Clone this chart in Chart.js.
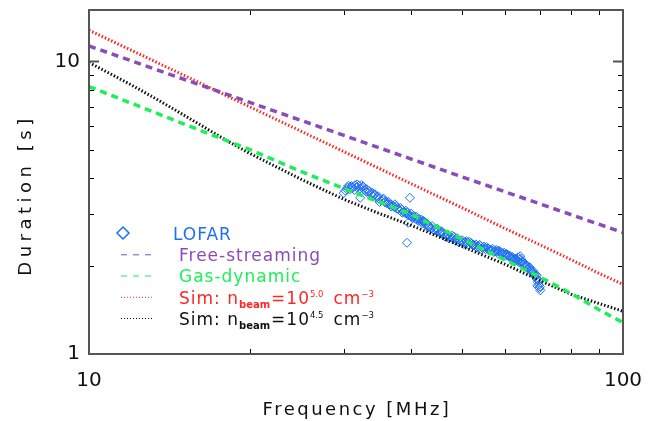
<!DOCTYPE html>
<html>
<head>
<meta charset="utf-8">
<script src="https://cdn.jsdelivr.net/npm/chart.js@4/dist/chart.umd.min.js"></script>
<style>
  html, body { margin: 0; padding: 0; background: #ffffff; }
  #wrap { width: 660px; height: 421px; }
</style>
</head>
<body>
<div id="wrap"><canvas id="c" width="660" height="421"></canvas></div>
<script>
// ---- data ----
const lofarFreq = [30.2,30.5,30.8,31.0,31.2,31.5,31.7,32.0,32.2,32.5,32.8,33.0,33.3,33.5,33.8,34.0,34.3,34.6,34.9,35.2,35.5,35.8,36.1,36.4,36.7,37.0,37.3,37.6,37.9,38.2,38.5,38.8,39.1,39.4,39.7,40.0,40.3,40.6,40.9,41.2,41.5,41.8,42.1,42.4,42.7,43.0,43.4,43.8,44.2,44.6,45.0,45.4,45.8,46.2,46.6,47.0,47.4,47.8,48.2,48.6,49.0,49.5,50.0,50.5,51.0,51.5,52.0,52.5,53.0,53.5,54.0,54.5,55.0,55.5,56.0,56.5,57.0,57.5,58.0,58.5,59.0,59.5,60.0,60.5,61.0,61.5,62.0,62.5,63.0,63.5,64.0,64.5,65.0,65.5,66.0,66.5,67.0,67.5,68.0,68.5,69.0,69.3,69.6,69.8,70.0,
  30.6,31.4,32.4,33.1,33.9,34.8,35.6,36.5,37.4,38.3,39.2,40.1,41.0,41.9,42.9,43.9,44.9,45.9,46.9,47.9,48.9,49.9,50.9,51.9,52.9,53.9,54.9,55.9,56.9,57.9,58.9,59.9,60.9,61.9,62.9,63.9,64.9,65.9,66.9,67.9,68.9,69.5,
  30.4,31.1,31.8,32.6,33.4,34.2,35.0,35.9,36.8,37.7,38.6,39.5,40.4,41.4,42.3,43.2,44.4,45.6,46.4,47.2,48.4,49.3,50.3,51.3,52.3,53.3,54.3,55.3,56.3,57.3,58.3,59.3,60.3,61.3,62.3,63.3,64.3,65.3,66.3,67.3,68.3,69.1,69.9,
  32.2,39.9,39.4,39.6,30.0,64.2,63.6];
const lofarDur = [3.62,3.71,3.66,3.75,3.70,3.78,3.72,3.76,3.68,3.71,3.63,3.60,3.55,3.58,3.50,3.47,3.52,3.42,3.40,3.35,3.37,3.30,3.28,3.31,3.24,3.22,3.18,3.20,3.13,3.10,3.12,3.06,3.03,3.05,2.98,2.97,2.94,2.96,2.90,2.87,2.89,2.84,2.80,2.82,2.77,2.75,2.72,2.70,2.66,2.68,2.63,2.60,2.62,2.57,2.55,2.56,2.51,2.50,2.52,2.47,2.46,2.44,2.45,2.41,2.40,2.42,2.38,2.36,2.37,2.33,2.34,2.31,2.30,2.32,2.28,2.27,2.29,2.25,2.24,2.26,2.22,2.21,2.19,2.20,2.16,2.14,2.15,2.11,2.12,2.08,2.10,2.06,2.03,2.04,1.99,1.97,1.95,1.91,1.88,1.84,1.80,1.76,1.72,1.68,1.65,
  3.76,3.64,3.78,3.66,3.56,3.46,3.40,3.25,3.25,3.16,3.09,3.02,2.95,2.88,2.80,2.74,2.68,2.58,2.53,2.54,2.49,2.42,2.43,2.40,2.34,2.36,2.33,2.30,2.26,2.27,2.24,2.22,2.18,2.12,2.09,2.06,2.06,2.01,1.98,1.92,1.86,1.79,
  3.66,3.72,3.80,3.74,3.62,3.49,3.31,3.33,3.19,3.14,3.04,3.00,2.92,2.85,2.85,2.71,2.64,2.63,2.52,2.49,2.45,2.41,2.38,2.37,2.36,2.31,2.28,2.28,2.25,2.23,2.21,2.19,2.17,2.17,2.13,2.10,2.12,2.00,1.96,1.93,1.87,1.71,1.70,
  3.42,3.42,2.40,2.81,3.55,2.16,2.14];

const freeFreq = [10, 20, 50, 100];
const freeDur  = [11.3, 7.25, 4.03, 2.6];

const gasFreq = [10, 12, 15, 20, 25, 30, 40, 50, 60, 70, 80, 90, 100];
const gasDur  = [8.21, 7.20, 6.13, 5.00, 4.20, 3.68, 3.01, 2.47, 2.10, 1.83, 1.61, 1.42, 1.28];

const sim50Freq = [10, 15, 20, 30, 40, 50, 60, 70, 80, 90, 100];
const sim50Dur  = [12.8, 9.00, 7.00, 4.92, 3.83, 3.16, 2.69, 2.36, 2.10, 1.89, 1.73];

const sim45Freq = [10, 12, 14, 16, 18, 20, 25, 30, 35, 40, 50, 60, 70, 80, 90, 100];
const sim45Dur  = [9.92, 8.32, 7.09, 6.14, 5.40, 4.85, 3.95, 3.38, 3.02, 2.76, 2.33, 2.03, 1.78, 1.60, 1.49, 1.40];

const xTickLabels = [10, 100];
const yTickLabels = [1, 10];
const xMinorTicks = [20, 30, 40, 50, 60, 70, 80, 90];
const yMinorTicks = [2, 3, 4, 5, 6, 7, 8, 9];

const seriesNames = ['LOFAR', 'Free-streaming', 'Gas-dynamic'];

// ---- colours ----
const C_BLUE = '#1f6ff2';
const C_PURPLE = 'rgb(138,76,184)';
const C_GREEN = '#1eee5a';
const C_RED = '#ff2626';
const C_BLACK = '#111111';
const FONT = '"DejaVu Sans", "Liberation Sans", sans-serif';

const pts = (xs, ys) => xs.map((x, i) => ({x: x, y: ys[i]}));

// inward ticks + frame
const framePlugin = {
  id: 'frame',
  beforeDraw(chart) { chart.ctx.letterSpacing = '0px'; },
  afterDatasetsDraw(chart) {
    const {ctx, chartArea: a, scales: {x, y}} = chart;
    ctx.save();
    ctx.letterSpacing = '0px';
    ctx.strokeStyle = '#000';
    ctx.lineWidth = 1;
    ctx.beginPath();
    xMinorTicks.forEach(v => {
      const px = Math.round(x.getPixelForValue(v)) + 0.5;
      ctx.moveTo(px, a.bottom); ctx.lineTo(px, a.bottom - 5);
      ctx.moveTo(px, a.top); ctx.lineTo(px, a.top + 5);
    });
    yMinorTicks.forEach(v => {
      const py = Math.round(y.getPixelForValue(v)) + 0.5;
      ctx.moveTo(a.left, py); ctx.lineTo(a.left + 5, py);
      ctx.moveTo(a.right, py); ctx.lineTo(a.right - 5, py);
    });
    ctx.stroke();
    ctx.strokeStyle = '#555';
    ctx.lineWidth = 2;
    ctx.beginPath();
    yTickLabels.forEach(v => {
      const py = y.getPixelForValue(v);
      ctx.moveTo(a.left, py); ctx.lineTo(a.left + 10, py);
      ctx.moveTo(a.right, py); ctx.lineTo(a.right - 10, py);
    });
    xTickLabels.forEach(v => {
      const px = x.getPixelForValue(v);
      ctx.moveTo(px, a.bottom); ctx.lineTo(px, a.bottom - 10);
      ctx.moveTo(px, a.top); ctx.lineTo(px, a.top + 10);
    });
    ctx.stroke();
    ctx.strokeStyle = '#555';
    ctx.lineWidth = 2;
    ctx.strokeRect(a.left, a.top, a.right - a.left, a.bottom - a.top);
    ctx.restore();
  },
  afterDraw(chart) {
    const {ctx, chartArea: a} = chart;
    ctx.save();
    ctx.fillStyle = '#111';
    ctx.font = '18px ' + FONT;
    ctx.letterSpacing = '2.5px';
    ctx.textAlign = 'center';
    ctx.textBaseline = 'alphabetic';
    ctx.fillText('Frequency [MHz]', (a.left + a.right) / 2 + 1, 415);
    ctx.save();
    ctx.letterSpacing = '4.5px';
    ctx.translate(31, 195);
    ctx.rotate(-Math.PI / 2);
    ctx.fillText('Duration [s]', 0, 0);
    ctx.restore();

    const rows = [233, 254.3, 275.5, 296.8, 318];
    const lx0 = 121, lx1 = 154;
    ctx.letterSpacing = '1px';
    ctx.textAlign = 'left';
    ctx.strokeStyle = C_BLUE; ctx.lineWidth = 1.5;
    ctx.beginPath();
    ctx.moveTo(123, rows[0] - 6); ctx.lineTo(129, rows[0]); ctx.lineTo(123, rows[0] + 6); ctx.lineTo(117, rows[0]); ctx.closePath();
    ctx.stroke();
    const legendLine = (ry, col, dash) => {
      ctx.save();
      ctx.strokeStyle = col; ctx.lineWidth = 1; ctx.setLineDash(dash);
      ctx.beginPath(); ctx.moveTo(lx0, ry + 0.5); ctx.lineTo(lx1, ry + 0.5); ctx.stroke();
      ctx.restore();
    };
    legendLine(rows[1], C_PURPLE, [6, 6]);
    legendLine(rows[2], C_GREEN, [6, 6]);
    legendLine(rows[3], C_RED, [1, 2]);
    legendLine(rows[4], C_BLACK, [1, 2]);

    const main = '17px ' + FONT;
    const small = 'bold 10px ' + FONT;
    const sup = '8.5px ' + FONT;
    const txt = (s, x, yb, font, col) => {
      ctx.font = font; ctx.fillStyle = col;
      ctx.fillText(s, x, yb);
      return x + ctx.measureText(s).width;
    };
    txt(seriesNames[0], 173, rows[0] + 6.5, main, C_BLUE);
    txt(seriesNames[1], 179, rows[1] + 6.5, main, C_PURPLE);
    txt(seriesNames[2], 179, rows[2] + 6.5, main, C_GREEN);
    const simLabel = (ry, exp, col) => {
      const yb = ry + 7;
      let x = txt('Sim: n', 179, yb, main, col);
      ctx.letterSpacing = '0px';
      x = txt('beam', x, yb + 4, small, col);
      ctx.letterSpacing = '1px';
      x = txt('=10', x + 1, yb, main, col);
      ctx.letterSpacing = '0px';
      x = txt(exp, x, yb - 7, sup, col);
      ctx.letterSpacing = '1px';
      x = txt('cm', x + 10, yb, main, col);
      ctx.letterSpacing = '0px';
      txt('\u22123', x, yb - 7, sup, col);
      ctx.letterSpacing = '1px';
    };
    simLabel(rows[3], '5.0', C_RED);
    simLabel(rows[4], '4.5', C_BLACK);
    ctx.restore();
    ctx.letterSpacing = '0px';
  }
};

new Chart(document.getElementById('c'), {
  type: 'scatter',
  data: {
    datasets: [
      { label: 'LOFAR', data: pts(lofarFreq, lofarDur), showLine: false,
        pointStyle: 'rectRot', pointRadius: 4.5, borderColor: C_BLUE, backgroundColor: 'rgba(0,0,0,0)',
        borderWidth: 1, order: 5 },
      { label: 'Free-streaming', data: pts(freeFreq, freeDur), showLine: true, pointRadius: 0,
        borderColor: C_PURPLE, borderWidth: 3.5, borderDash: [7, 5], order: 1 },
      { label: 'Gas-dynamic', data: pts(gasFreq, gasDur), showLine: true, pointRadius: 0,
        borderColor: C_GREEN, borderWidth: 3.5, borderDash: [7, 5], order: 1 },
      { label: 'Sim 5.0', data: pts(sim50Freq, sim50Dur), showLine: true, pointRadius: 0,
        borderColor: C_RED, borderWidth: 3, borderDash: [1.5, 2], order: 2 },
      { label: 'Sim 4.5', data: pts(sim45Freq, sim45Dur), showLine: true, pointRadius: 0,
        borderColor: C_BLACK, borderWidth: 3, borderDash: [1.5, 2], order: 2 }
    ]
  },
  options: {
    responsive: false,
    animation: false,
    devicePixelRatio: 1,
    layout: { padding: { top: 10, right: 37, left: 0, bottom: 0 } },
    plugins: { legend: { display: false }, tooltip: { enabled: false } },
    scales: {
      x: {
        type: 'logarithmic', position: 'bottom', min: 10, max: 100,
        grid: { display: false, drawTicks: false }, border: { display: false },
        afterFit: s => { s.height = 67; s.paddingLeft = 0; s.paddingRight = 0; },
        ticks: {
          z: 1, autoSkip: false, maxRotation: 0, padding: 15, color: '#111',
          font: { family: FONT, size: 20 },
          callback: v => xTickLabels.includes(v) ? String(v) : ''
        }
      },
      y: {
        type: 'logarithmic', position: 'left', min: 1, max: 15,
        grid: { display: false, drawTicks: false }, border: { display: false },
        afterFit: s => { s.width = 89; s.paddingTop = 0; s.paddingBottom = 0; },
        ticks: {
          z: 1, autoSkip: false, padding: 9, color: '#111',
          font: { family: FONT, size: 20 },
          callback: v => yTickLabels.includes(v) ? String(v) : ''
        }
      }
    }
  },
  plugins: [framePlugin]
});
</script>
</body>
</html>
